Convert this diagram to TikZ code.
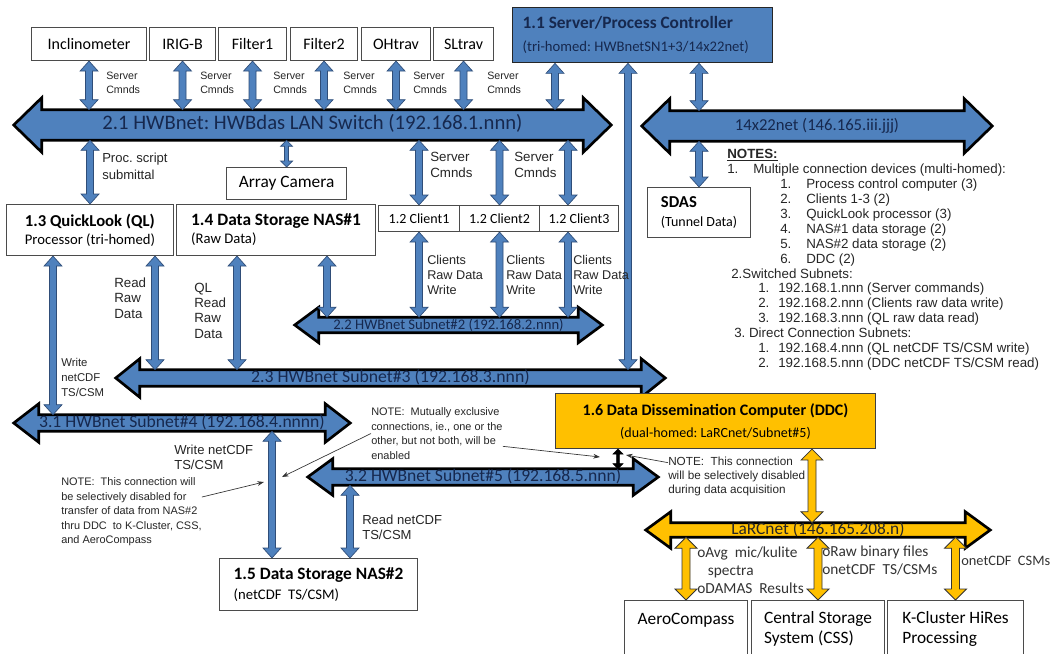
\documentclass[tikz,border=0pt]{standalone}
\usepackage{fontspec}
\setmainfont{Carlito}
\newfontfamily\arialf{Liberation Sans}
\usetikzlibrary{calc,arrows.meta}

\definecolor{hwbblue}{RGB}{79,129,189}
\definecolor{hwbedge}{RGB}{47,77,120}
\definecolor{bustext}{RGB}{22,40,78}
\definecolor{ddcgold}{RGB}{255,192,0}
\definecolor{boxline}{RGB}{75,75,75}

\pgfdeclarelayer{buslayer}
\pgfsetlayers{buslayer,main}

\newcommand{\pxs}{0.75pt}

% fat vertical double arrow: style, half shaft, half head, head length, top, bottom
\newcommand{\fatlink}[6]{%
  \path (#5) coordinate (ftop);
  \path (ftop |- #6) coordinate (fbot);
  \filldraw[#1, line join=miter]
    (ftop) -- ($(ftop)+(#3,-#4)$) -- ($(ftop)+(#2,-#4)$) -- ($(fbot)+(#2,#4)$)
    -- ($(fbot)+(#3,#4)$) -- (fbot) -- ($(fbot)+(-#3,#4)$) -- ($(fbot)+(-#2,#4)$)
    -- ($(ftop)+(-#2,-#4)$) -- ($(ftop)+(-#3,-#4)$) -- cycle;}
\newcommand{\blink}[2]{\fatlink{bluelink}{2.6pt}{6.75pt}{7.5pt}{#1}{#2}}
\newcommand{\slink}[2]{\fatlink{bluelink}{1.5pt}{4.5pt}{4.5pt}{#1}{#2}}
\newcommand{\glink}[2]{\fatlink{goldlink}{3pt}{8.25pt}{8.25pt}{#1}{#2}}
\newcommand{\klink}[2]{\fatlink{blacklink}{1.1pt}{3.75pt}{3.75pt}{#1}{#2}}

% network bus drawn round its shaft node: node, fill, head length, head overhang
\newcommand{\busarrow}[4]{%
  \begin{pgfonlayer}{buslayer}
  \filldraw[fill=#2, draw=black, line width=2pt, line join=miter]
    (#1.north west) -- (#1.north east) -- ($(#1.north east)+(0,#4)$) -- ($(#1.east)+(#3,0)$)
    -- ($(#1.south east)+(0,-#4)$) -- (#1.south east) -- (#1.south west)
    -- ($(#1.south west)+(0,-#4)$) -- ($(#1.west)+(-#3,0)$) -- ($(#1.north west)+(0,#4)$) -- cycle;
  \end{pgfonlayer}}

\tikzset{
  box/.style={draw=boxline, fill=white, line width=0.8pt, inner sep=0pt, anchor=north west, align=center},
  topbox/.style={box, font=\fontsize{12}{14}\selectfont},
  devbox/.style={box, align=left, font=\fontsize{12.5}{13.5}\selectfont},
  clibox/.style={box, font=\fontsize{10.5}{12}\selectfont},
  busbody/.style={inner sep=0pt, text=bustext, text height=8pt, text depth=2pt},
  cmdlbl/.style={anchor=west, inner sep=0pt, align=left, text=black!85, font=\arialf\fontsize{8}{10.5}\selectfont},
  notetxt/.style={anchor=west, inner sep=0pt, align=left, text=black!85, font=\arialf\fontsize{8.2}{10.9}\selectfont},
  goldlbl/.style={anchor=west, inner sep=0pt, align=left, text=black!80, font=\fontsize{11.5}{13.5}\selectfont},
  notearrow/.style={-{Stealth[length=5pt,width=3.5pt]}, line width=0.5pt, black!80},
  bluelink/.style={fill=hwbblue, draw=hwbedge, line width=0.5pt},
  goldlink/.style={fill=ddcgold, draw=black!80, line width=0.6pt},
  blacklink/.style={fill=black, draw=black, line width=0.4pt}
}

\begin{document}
\frenchspacing
\begin{tikzpicture}[x=0.75pt, y=-0.75pt]
\useasboundingbox (0,0) rectangle (1051,654);
\begin{pgfonlayer}{buslayer}
\fill[white] (0,0) rectangle (1051,654);
\end{pgfonlayer}

% devices on the LAN switch
\node[topbox, minimum width=115*\pxs, minimum height=33*\pxs] (inc) at (31,27) {Inclinometer};
\node[topbox, minimum width=66*\pxs, minimum height=33*\pxs] (irig) at (149,27) {IRIG-B};
\node[topbox, minimum width=68*\pxs, minimum height=33*\pxs] (filt1) at (218,27) {Filter1};
\node[topbox, minimum width=67*\pxs, minimum height=33*\pxs] (filt2) at (290,27) {Filter2};
\node[topbox, minimum width=69*\pxs, minimum height=33*\pxs] (ohtrav) at (361,27) {OHtrav};
\node[topbox, minimum width=60*\pxs, minimum height=33*\pxs] (sltrav) at (433,27) {SLtrav};
\node[devbox, align=flush left, fill=hwbblue, draw=black!85, line width=1pt, text=bustext, font=\fontsize{13}{17}\selectfont,
  text width=180pt, minimum width=260*\pxs, minimum height=55*\pxs] (server) at (512,7)
  {\textbf{1.1 Server/Process Controller}\\{\fontsize{11}{12}\selectfont (tri-homed: HWBnetSN1+3/14x22net)}};

\node[busbody, font=\fontsize{15.5}{17}\selectfont, minimum width=405.75pt, minimum height=22.5pt] (sw) at (312.5,125)
  {2.1 HWBnet: HWBdas LAN Switch (192.168.1.nnn)};
\busarrow{sw}{hwbblue}{21pt}{9pt}
\node[busbody, font=\fontsize{12.5}{14}\selectfont, minimum width=220.5pt, minimum height=22.5pt] (lan14) at (817,126)
  {14x22net (146.165.iii.jjj)};
\busarrow{lan14}{hwbblue}{21pt}{9pt}

\node[topbox, font=\fontsize{13}{15}\selectfont, minimum width=120*\pxs, minimum height=32*\pxs] (cam) at (226,167) {Array Camera};
\node[devbox, minimum width=167*\pxs, minimum height=51*\pxs] (ql) at (6,204)
  {\textbf{1.3 QuickLook (QL)}\\{\fontsize{11}{12}\selectfont Processor (tri-homed)}};
\node[devbox, font=\fontsize{13}{13.5}\selectfont, minimum width=199*\pxs, minimum height=51*\pxs] (nas1) at (176,204)
  {\textbf{1.4 Data Storage NAS\#1}\\{\fontsize{11}{12}\selectfont (Raw Data)}};
\node[clibox, minimum width=81*\pxs, minimum height=26*\pxs] (cl1) at (378,205) {1.2 Client1};
\node[clibox, minimum width=80*\pxs, minimum height=26*\pxs] (cl2) at (459,205) {1.2 Client2};
\node[clibox, minimum width=79*\pxs, minimum height=26*\pxs] (cl3) at (539,205) {1.2 Client3};
\node[devbox, font=\fontsize{12.5}{14}\selectfont, minimum width=103*\pxs, minimum height=50*\pxs] (sdas) at (647,187)
  {\textbf{SDAS}\\{\fontsize{10.5}{12}\selectfont (Tunnel Data)}};

\node[busbody, font=\fontsize{11}{12}\selectfont, minimum width=194.25pt, minimum height=11.25pt] (bus22) at (448.5,325)
  {2.2 HWBnet Subnet\#2 (192.168.2.nnn)};
\busarrow{bus22}{hwbblue}{18pt}{7.5pt}
\node[busbody, font=\fontsize{13.3}{14}\selectfont, minimum width=375.75pt, minimum height=12pt] (bus23) at (390.5,378)
  {2.3 HWBnet Subnet\#3 (192.168.3.nnn)};
\busarrow{bus23}{hwbblue}{18pt}{8.25pt}
\node[busbody, font=\fontsize{13.2}{14}\selectfont, minimum width=214.5pt, minimum height=12pt] (bus31) at (182,423)
  {3.1 HWBnet Subnet\#4 (192.168.4.nnnn)};
\busarrow{bus31}{hwbblue}{18.75pt}{8.25pt}
\node[busbody, font=\fontsize{13.2}{14}\selectfont, minimum width=225pt, minimum height=12pt] (bus32) at (483,477)
  {3.2 HWBnet Subnet\#5 (192.168.5.nnn)};
\busarrow{bus32}{hwbblue}{18.75pt}{7.5pt}

\node[box, fill=ddcgold, draw=black!75, font=\fontsize{12}{16.5}\selectfont, minimum width=320*\pxs, minimum height=55*\pxs] (ddc) at (555,393)
  {\textbf{1.6 Data Dissemination Computer (DDC)}\\{\fontsize{10.5}{12}\selectfont (dual-homed: LaRCnet/Subnet\#5)}};
\node[busbody, text=black!85, font=\fontsize{13}{14}\selectfont, minimum width=220.5pt, minimum height=10.5pt] (larc) at (818,530)
  {LaRCnet (146.165.208.n)};
\busarrow{larc}{ddcgold}{18.75pt}{8.25pt}

\node[devbox, font=\fontsize{13}{15}\selectfont, minimum width=198*\pxs, minimum height=52*\pxs] (nas2) at (219,558)
  {\textbf{1.5 Data Storage NAS\#2}\\{\fontsize{11}{12}\selectfont (netCDF\ \ TS/CSM)}};
\node[devbox, font=\fontsize{13}{15}\selectfont, minimum width=123*\pxs, minimum height=56*\pxs] (aero) at (624,600)
  {AeroCompass\\\mbox{}};
\node[devbox, font=\fontsize{13}{15}\selectfont, minimum width=133*\pxs, minimum height=56*\pxs] (css) at (751,600)
  {Central Storage\\System (CSS)};
\node[devbox, font=\fontsize{13}{15}\selectfont, minimum width=136*\pxs, minimum height=56*\pxs] (kcl) at (887,600)
  {K-Cluster HiRes\\Processing};

% links
\blink{inc.south}{sw.north}
\blink{irig.south}{sw.north}
\blink{filt1.south}{sw.north}
\blink{filt2.south}{sw.north}
\blink{ohtrav.south}{sw.north}
\blink{sltrav.south}{sw.north}
\blink{$(server.south west)+(43,0)$}{sw.north}
\blink{server.south -| sdas.north}{lan14.north}
\blink{lan14.south -| sdas.north}{sdas.north}
\blink{$(server.south west)+(116,0)$}{bus23.north}
\blink{sw.south -| ql.north}{ql.north}
\slink{sw.south -| cam.north}{cam.north}
\blink{sw.south -| cl1.north}{cl1.north}
\blink{sw.south -| cl2.north}{cl2.north}
\blink{$(cl3.north |- sw.south)+(-11,0)$}{cl3.north}
\blink{cl1.south}{bus22.north}
\blink{cl2.south}{bus22.north}
\blink{$(cl3.south)+(-11,0)$}{bus22.north}
\blink{$(nas1.south west)+(151,0)$}{bus22.north}
\blink{$(ql.south west)+(149,0)$}{bus23.north}
\blink{$(nas1.south west)+(61,0)$}{bus23.north}
\blink{$(ql.south west)+(47,0)$}{bus31.north}
\blink{$(bus31.south -| nas2.north west)+(53,0)$}{nas2.north}
\blink{$(bus32.south -| nas2.north west)+(131,0)$}{nas2.north}
\klink{$(ddc.south west)+(63,0)$}{bus32.north}
\glink{$(ddc.south west)+(257,0)$}{larc.north}
\glink{larc.south -| aero.north}{aero.north}
\glink{larc.south -| css.north}{css.north}
\glink{larc.south -| kcl.north}{kcl.north}

% labels
\node[cmdlbl] (cmdA) at (106,83) {Server\\Cmnds};
\node[cmdlbl] (cmdB) at (200,83) {Server\\Cmnds};
\node[cmdlbl] (cmdC) at (273,83) {Server\\Cmnds};
\node[cmdlbl] (cmdD) at (343,83) {Server\\Cmnds};
\node[cmdlbl] (cmdE) at (413,83) {Server\\Cmnds};
\node[cmdlbl] (cmdF) at (487,83) {Server\\Cmnds};
\node[cmdlbl, font=\arialf\fontsize{10}{12.5}\selectfont] (cmdG) at (430,165) {Server\\Cmnds};
\node[cmdlbl, font=\arialf\fontsize{10}{12.5}\selectfont] (cmdH) at (514,165) {Server\\Cmnds};
\node[cmdlbl, font=\arialf\fontsize{9.8}{13}\selectfont] (proc) at (102,166) {Proc. script\\submittal};
\node[cmdlbl, font=\arialf\fontsize{9.5}{11.25}\selectfont] (cliA) at (427,275) {Clients\\Raw Data\\Write};
\node[cmdlbl, font=\arialf\fontsize{9.5}{11.25}\selectfont] (cliB) at (506,275) {Clients\\Raw Data\\Write};
\node[cmdlbl, font=\arialf\fontsize{9.5}{11.25}\selectfont] (cliC) at (573,275) {Clients\\Raw Data\\Write};
\node[cmdlbl, font=\arialf\fontsize{10}{11.5}\selectfont] (readA) at (114,298) {Read\\Raw\\Data};
\node[cmdlbl, font=\arialf\fontsize{10}{11.5}\selectfont] (readB) at (194,310.5) {QL\\Read\\Raw\\Data};
\node[cmdlbl, font=\arialf\fontsize{8.5}{11.25}\selectfont] (writeA) at (61,377) {Write\\netCDF\\TS/CSM};
\node[cmdlbl, font=\arialf\fontsize{9.8}{11.25}\selectfont] (writeB) at (174,457.5) {Write netCDF\\TS/CSM};
\node[cmdlbl, font=\arialf\fontsize{9.8}{11.25}\selectfont] (readC) at (362,527.5) {Read netCDF\\TS/CSM};
\node[goldlbl] (goldA) at (697,570) {oAvg\ \ mic/kulite\\\hspace*{8pt}spectra\\oDAMAS\ \ Results};
\node[goldlbl] (goldB) at (822,560.5) {oRaw binary files\\onetCDF\ \ TS/CSMs};
\node[goldlbl, font=\fontsize{10.8}{13.5}\selectfont] (goldC) at (961,561) {onetCDF\ \ CSMs};

% notes
\node[notetxt] (noteL) at (61,512) {NOTE:\ \ This connection will\\be selectively disabled for\\transfer of data from NAS\#2\\thru DDC\ \ to K-Cluster, CSS,\\and AeroCompass};
\node[notetxt] (noteM) at (371,433.5) {NOTE:\ \ Mutually exclusive\\connections, ie., one or the\\other, but not both, will be\\enabled};
\node[notetxt, font=\arialf\fontsize{8.8}{10.5}\selectfont] (noteR) at (668,476) {NOTE:\ \ This connection\\will be selectively disabled\\during data acquisition};
\coordinate (dis1) at (264,482);
\coordinate (dis2) at (282,477);
\coordinate (dis3) at (600,457);
\coordinate (dis4) at (626,455);
\draw[notearrow] (noteL.12) -- (dis1);
\draw[notearrow] (noteM.west) -- (dis2);
\draw[notearrow] (noteM.-11) -- (dis3);
\draw[notearrow] (noteR.169) -- (dis4);

\node[anchor=north west, inner sep=0pt, align=left, text=black!85, font=\arialf\fontsize{10}{11.2}\selectfont] (notes) at (727,149)
  {\underline{\textbf{NOTES:}}\\
   \makebox[19.5pt][l]{1.}Multiple connection devices (multi-homed):\\
   \hspace*{39.75pt}\makebox[19.5pt][l]{1.}Process control computer (3)\\
   \hspace*{39.75pt}\makebox[19.5pt][l]{2.}Clients 1-3 (2)\\
   \hspace*{39.75pt}\makebox[19.5pt][l]{3.}QuickLook processor (3)\\
   \hspace*{39.75pt}\makebox[19.5pt][l]{4.}NAS\#1 data storage (2)\\
   \hspace*{39.75pt}\makebox[19.5pt][l]{5.}NAS\#2 data storage (2)\\
   \hspace*{39.75pt}\makebox[19.5pt][l]{6.}DDC (2)\\
   \hspace*{3pt}2.Switched Subnets:\\
   \hspace*{23.25pt}\makebox[15pt][l]{1.}192.168.1.nnn (Server commands)\\
   \hspace*{23.25pt}\makebox[15pt][l]{2.}192.168.2.nnn (Clients raw data write)\\
   \hspace*{23.25pt}\makebox[15pt][l]{3.}192.168.3.nnn (QL raw data read)\\
   \hspace*{5.25pt}3. Direct Connection Subnets:\\
   \hspace*{23.25pt}\makebox[15pt][l]{1.}192.168.4.nnn (QL netCDF TS/CSM write)\\
   \hspace*{23.25pt}\makebox[15pt][l]{2.}192.168.5.nnn (DDC netCDF TS/CSM read)};
\end{tikzpicture}
\end{document}
